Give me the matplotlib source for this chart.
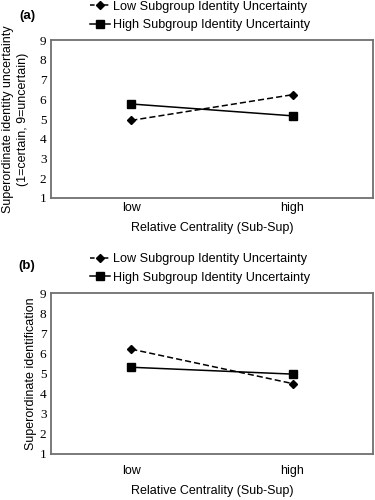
import matplotlib
matplotlib.use("Agg")
import matplotlib.pyplot as plt
from matplotlib.lines import Line2D

categories = ["low", "high"]
series_names = ["Low Subgroup Identity Uncertainty", "High Subgroup Identity Uncertainty"]
panel_a_low = [4.93, 6.23]
panel_a_high = [5.76, 5.16]
panel_b_low = [6.21, 4.50]
panel_b_high = [5.31, 4.97]
yticks = [1, 2, 3, 4, 5, 6, 7, 8, 9]

plt.rcParams['font.family'] = ['Liberation Sans', 'DejaVu Sans']

fig = plt.figure(figsize=(3.75, 5), dpi=100)

def panel(rect, low, high, ylabel, tag, tag_y, leg_y, ticklab_pad, xlabel_pad, ylabel_pad):
    ax = fig.add_axes(rect)
    x = list(range(len(categories)))
    ax.plot(x, low, color='black', linestyle=(0, (4, 2)), linewidth=1.1,
            marker='D', markersize=4.5, label=series_names[0])
    ax.plot(x, high, color='black', linestyle='-', linewidth=1.1,
            marker='s', markersize=6, label=series_names[1])
    ax.set_xlim(-0.5, 1.5)
    ax.set_ylim(1, 9)
    ax.set_yticks(yticks)
    ax.set_xticks(x)
    ax.set_xticklabels(categories, fontsize=9)
    for lab in ax.get_yticklabels():
        lab.set_fontfamily('Liberation Serif')
        lab.set_fontsize(9.5)
    ax.tick_params(axis='both', length=0)
    ax.tick_params(axis='y', pad=3)
    ax.tick_params(axis='x', pad=ticklab_pad)
    for s in ax.spines.values():
        s.set_color('#707070')
        s.set_linewidth(1.3)
    ax.set_xlabel("Relative Centrality (Sub-Sup)", fontsize=9, labelpad=xlabel_pad)
    ax.set_ylabel(ylabel, fontsize=9, labelpad=ylabel_pad, linespacing=1.25)
    handles = [
        Line2D([], [], color='black', linestyle=(0, (3, 1.5)), linewidth=1.1, marker='D', markersize=4),
        Line2D([], [], color='black', linestyle='-', linewidth=1.1, marker='s', markersize=5.5),
    ]
    fig.legend(handles, series_names, loc='center left', bbox_to_anchor=(0.24, leg_y),
               frameon=False, fontsize=9.1, handlelength=1.6, handletextpad=0.2,
               labelspacing=0.5, borderpad=0, borderaxespad=0)
    fig.text(0.072, tag_y, tag, fontsize=9.5, fontweight='bold', ha='center', va='center')
    return ax

panel([0.135, 0.604, 0.86, 0.316], panel_a_low, panel_a_high,
      "Superordinate identity uncertainty\n(1=certain, 9=uncertain)", "(a)",
      1 - 16/500, 1 - 16/500, 3, 6, 8)
panel([0.135, 0.092, 0.86, 0.322], panel_b_low, panel_b_high,
      "Superordinate identification", "(b)",
      1 - 266/500, 1 - 268.5/500, 8, 6, 2)

fig.savefig("out.png", dpi=100)
